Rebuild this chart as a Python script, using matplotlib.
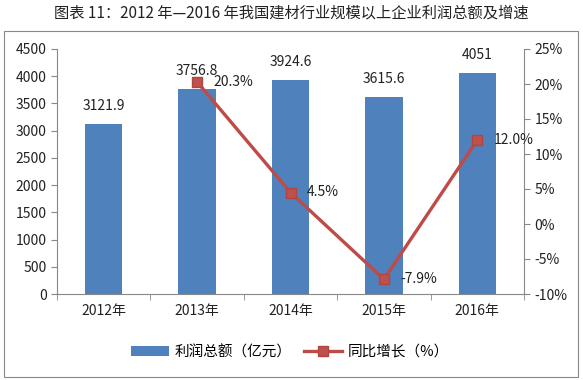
import matplotlib.pyplot as plt
from matplotlib.patches import Rectangle
from matplotlib.ticker import FuncFormatter

plt.rcParams['font.family'] = ['Noto Sans CJK SC', 'DejaVu Sans']

years = ['2012年', '2013年', '2014年', '2015年', '2016年']
profit = [3121.9, 3756.8, 3924.6, 3615.6, 4051]
growth = [None, 20.3, 4.5, -7.9, 12.0]

bar_color = '#4F81BD'
line_color = '#BE4B48'

fig = plt.figure(figsize=(5.83, 3.80), dpi=100)
fig.patch.set_facecolor('white')

# outer chart frame
fig.add_artist(Rectangle((4 / 583, 3 / 380), 574 / 583, 346 / 380,
                         transform=fig.transFigure, fill=False,
                         edgecolor='#888888', linewidth=0.8))

fig.text(0.5, 1 - 13 / 380, '图表 11：2012 年—2016 年我国建材行业规模以上企业利润总额及增速',
         ha='center', va='center', fontsize=11, color='#222222')

ax = fig.add_axes([57 / 583, 1 - 294 / 380, 467 / 583, 245 / 380])
x = list(range(len(years)))
ax.bar(x, profit, width=0.4, color=bar_color, label='利润总额（亿元）', zorder=2)
ax.set_xlim(-0.5, 4.5)
ax.set_ylim(0, 4500)
ax.set_yticks(range(0, 4501, 500))
ax.set_xticks(x)
ax.set_xticklabels(years)

for xi, v in zip(x, profit):
    ax.annotate(f'{v:g}', (xi, v), xytext=(0, 8), textcoords='offset points',
                ha='center', va='bottom', fontsize=10, color='#222222')

ax2 = ax.twinx()
gx = [xi for xi, g in zip(x, growth) if g is not None]
gy = [g for g in growth if g is not None]
ax2.plot(gx, gy, color=line_color, linewidth=2.4, marker='s', markersize=7,
         markerfacecolor='#C0504D', markeredgecolor='#B04542', label='同比增长（%）', zorder=3)
ax2.set_ylim(-10, 25)
ax2.set_yticks(range(-10, 26, 5))
ax2.yaxis.set_major_formatter(FuncFormatter(lambda v, p: f'{v:.0f}%'))

for xi, g in zip(gx, gy):
    ax2.annotate(f'{g:.1f}%', (xi, g), xytext=(12, 0), textcoords='offset points',
                 ha='left', va='center', fontsize=10, color='#222222')

for a in (ax, ax2):
    a.spines['top'].set_visible(False)
    for s in ('left', 'right', 'bottom'):
        a.spines[s].set_color('#888888')
    a.tick_params(axis='both', colors='#888888', labelcolor='#222222', labelsize=10, length=4)
ax.spines['right'].set_visible(False)
ax2.spines['left'].set_visible(False)
ax2.spines['bottom'].set_visible(False)
# x tick marks sit between categories
ax.set_xticks([i + 0.5 for i in range(-1, 5)], minor=True)
ax.tick_params(axis='x', which='major', length=0, pad=7)
ax.tick_params(axis='x', which='minor', length=4, color='#888888')

h1, l1 = ax.get_legend_handles_labels()
h2, l2 = ax2.get_legend_handles_labels()
fig.legend(h1 + h2, l1 + l2, loc='center', bbox_to_anchor=(290 / 583, 1 - 352 / 380),
           ncol=2, frameon=False, fontsize=10.5, handlelength=2.6, columnspacing=0.8,
           handletextpad=0.4)

fig.savefig('out.png', dpi=100)
